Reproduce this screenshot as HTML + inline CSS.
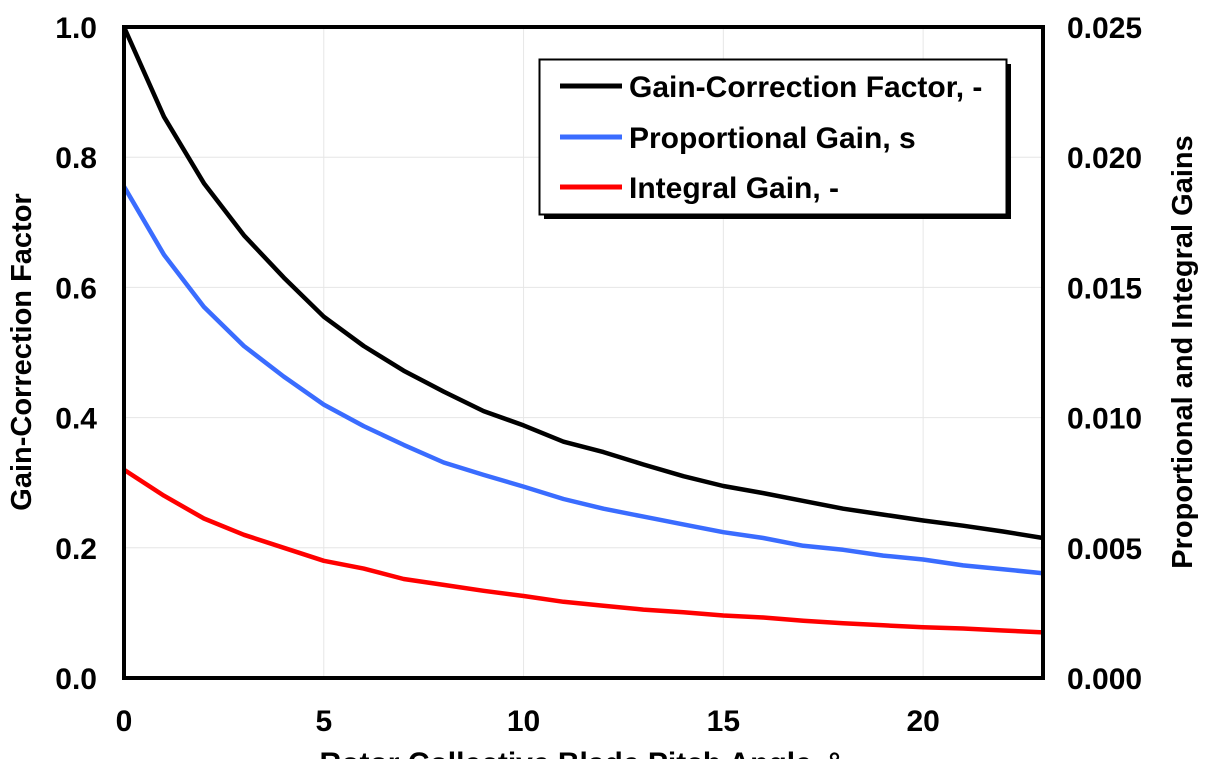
<!DOCTYPE html>
<html><head><meta charset="utf-8"><style>
html,body{margin:0;padding:0;background:#fff;}
svg{display:block;}
text{font-family:"Liberation Sans",Arial,sans-serif;font-weight:bold;fill:#000;}
</style></head><body>
<svg id="s" width="1206" height="759" viewBox="0 0 1206 759" xmlns="http://www.w3.org/2000/svg"></svg>
<script>
var L=124,R=1043,T=27,B=678;
function X(v){return L+(R-L)*v/23;}
function Y(v){return B-(B-T)*v;}
var k=[1.0,0.862,0.76,0.68,0.615,0.555,0.51,0.472,0.44,0.41,0.388,0.363,0.347,0.328,0.31,0.295,0.284,0.272,0.26,0.251,0.242,0.234,0.225,0.215];
var b=[0.755,0.65,0.57,0.51,0.463,0.42,0.387,0.358,0.331,0.312,0.294,0.275,0.26,0.248,0.236,0.224,0.215,0.203,0.197,0.188,0.182,0.173,0.167,0.161];
var r=[0.32,0.28,0.245,0.22,0.2,0.18,0.168,0.152,0.143,0.134,0.126,0.117,0.111,0.105,0.101,0.096,0.093,0.088,0.084,0.081,0.078,0.076,0.073,0.07];
var h='';
for(var i=1;i<5;i++){h+='<line x1="'+X(i*5)+'" y1="'+T+'" x2="'+X(i*5)+'" y2="'+B+'" stroke="#e6e6e6" stroke-width="1"/>';}
for(var i=1;i<5;i++){h+='<line x1="'+L+'" y1="'+Y(i*0.2)+'" x2="'+R+'" y2="'+Y(i*0.2)+'" stroke="#e6e6e6" stroke-width="1"/>';}
function pl(d,c){var p=d.map(function(v,i){return X(i).toFixed(1)+','+Y(v).toFixed(1)}).join(' ');return '<polyline points="'+p+'" fill="none" stroke="'+c+'" stroke-width="4.5" stroke-linejoin="round"/>';}
h+=pl(r,'#ff0000')+pl(b,'#3a6cff')+pl(k,'#000');
h+='<rect x="'+L+'" y="'+T+'" width="'+(R-L)+'" height="'+(B-T)+'" fill="none" stroke="#000" stroke-width="4"/>';
for(var i=0;i<=5;i++){var y=Y(i*0.2);
h+='<text x="97" y="'+(y+11)+'" font-size="30" text-anchor="end">'+(i*0.2).toFixed(1)+'</text>';
h+='<text x="1067" y="'+(y+11)+'" font-size="30">'+(i*0.005).toFixed(3)+'</text>';}
for(var i=0;i<=4;i++){h+='<text x="'+X(i*5)+'" y="731" font-size="30" text-anchor="middle">'+(i*5)+'</text>';}
h+='<text x="580" y="773" font-size="30" text-anchor="middle">Rotor Collective Blade Pitch Angle, °</text>';
h+='<text transform="translate(31,352) rotate(-90)" font-size="29" text-anchor="middle">Gain-Correction Factor</text>';
h+='<text transform="translate(1192,352) rotate(-90)" font-size="29" text-anchor="middle">Proportional and Integral Gains</text>';
h+='<rect x="544" y="64" width="467" height="155" fill="#000"/>';
h+='<rect x="539.5" y="59.5" width="467" height="155" fill="#fff" stroke="#000" stroke-width="2"/>';
var lg=[['#000','Gain-Correction Factor, -',86],['#3a6cff','Proportional Gain, s',137],['#ff0000','Integral Gain, -',187]];
lg.forEach(function(e){h+='<line x1="560" y1="'+e[2]+'" x2="622" y2="'+e[2]+'" stroke="'+e[0]+'" stroke-width="5"/>';
h+='<text x="629" y="'+(e[2]+11)+'" font-size="30">'+e[1]+'</text>';});
document.getElementById('s').innerHTML=h;
</script>
</body></html>
